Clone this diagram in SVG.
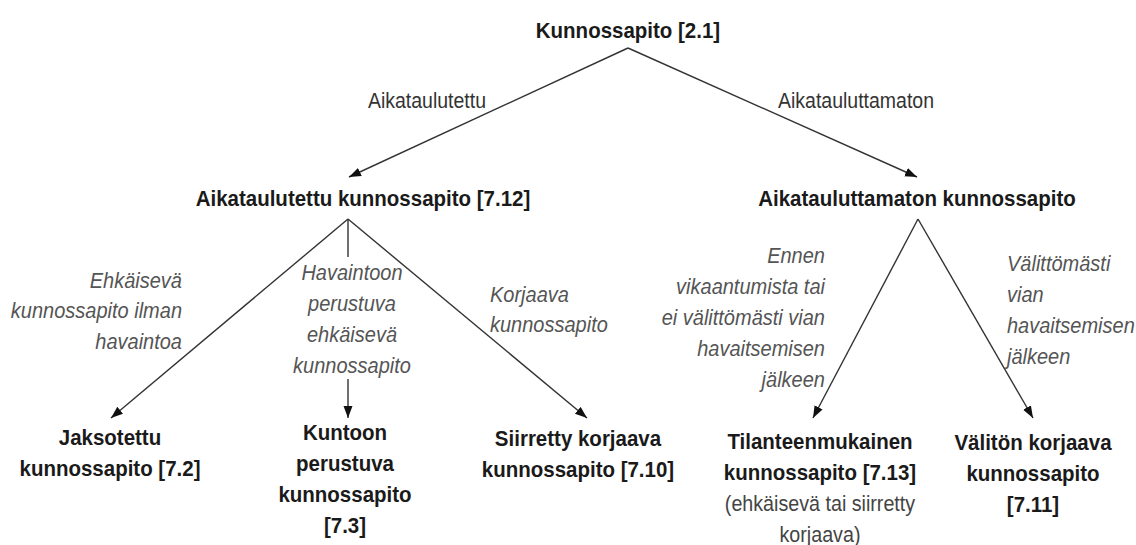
<svg xmlns="http://www.w3.org/2000/svg" width="1136" height="545" viewBox="0 0 1136 545">
<style>
.n{font-family:"Liberation Sans",Arial,sans-serif;font-weight:bold;font-size:20.5px;fill:#1a1a1a;text-anchor:middle}
.l{font-family:"Liberation Sans",Arial,sans-serif;font-size:19.5px;fill:#333}
.i{font-family:"Liberation Sans",Arial,sans-serif;font-style:italic;font-size:20px;fill:#555}
.s{font-family:"Liberation Sans",Arial,sans-serif;font-size:19.7px;fill:#444;text-anchor:middle}
.c{stroke:#333;stroke-width:1.4;fill:none}
.a{marker-end:url(#ah)}
</style>
<defs>
<marker id="ah" markerUnits="userSpaceOnUse" markerWidth="13" markerHeight="10" refX="12" refY="4.5" orient="auto">
<path d="M0,0 L12,4.5 L0,9 z" fill="#111"/>
</marker>
</defs>
<rect width="1136" height="545" fill="#fff"/>
<g id="connectors">
<line class="c a" x1="628" y1="48" x2="349" y2="177"/>
<line class="c a" x1="628" y1="48" x2="917" y2="177"/>
<line class="c a" x1="348" y1="219" x2="111" y2="418"/>
<line class="c" x1="348" y1="219" x2="348" y2="257"/>
<line class="c a" x1="348" y1="379" x2="348" y2="418"/>
<line class="c a" x1="348" y1="219" x2="587" y2="418"/>
<line class="c a" x1="918" y1="219" x2="813" y2="418"/>
<line class="c a" x1="918" y1="219" x2="1033" y2="418"/>
</g>
<g transform="scale(1,1.1)">
<g id="edge-labels">
<text class="l" x="486" y="98.18" text-anchor="end">Aikataulutettu</text>
<text class="l" x="778" y="98.18">Aikatauluttamaton</text>
<text class="i" text-anchor="end"><tspan x="182" y="261.82">Ehkäisevä</tspan><tspan x="182" y="289.55">kunnossapito ilman</tspan><tspan x="182" y="317.27">havaintoa</tspan></text>
<text class="i" text-anchor="middle"><tspan x="352" y="254.55">Havaintoon</tspan><tspan x="352" y="282.73">perustuva</tspan><tspan x="352" y="310.91">ehkäisevä</tspan><tspan x="352" y="339.09">kunnossapito</tspan></text>
<text class="i"><tspan x="490" y="274.55">Korjaava</tspan><tspan x="490" y="301.82">kunnossapito</tspan></text>
<text class="i" text-anchor="end"><tspan x="825" y="239.09">Ennen</tspan><tspan x="825" y="267.27">vikaantumista tai</tspan><tspan x="825" y="295.45">ei välittömästi vian</tspan><tspan x="825" y="323.64">havaitsemisen</tspan><tspan x="825" y="351.82">jälkeen</tspan></text>
<text class="i"><tspan x="1007" y="246.36">Välittömästi</tspan><tspan x="1007" y="274.55">vian</tspan><tspan x="1007" y="302.73">havaitsemisen</tspan><tspan x="1007" y="330.91">jälkeen</tspan></text>
</g>
<g id="root"><text class="n" x="628" y="34.55">Kunnossapito [2.1]</text></g>
<g id="scheduled"><text class="n" x="363" y="187.27">Aikataulutettu kunnossapito [7.12]</text></g>
<g id="unscheduled"><text class="n" x="917" y="187.27">Aikatauluttamaton kunnossapito</text></g>
<g id="periodic"><text class="n"><tspan x="110" y="404.55">Jaksotettu</tspan><tspan x="110" y="432.73">kunnossapito [7.2]</tspan></text></g>
<g id="condition"><text class="n"><tspan x="345" y="400">Kuntoon</tspan><tspan x="345" y="428.18">perustuva</tspan><tspan x="345" y="456.36">kunnossapito</tspan><tspan x="345" y="484.55">[7.3]</tspan></text></g>
<g id="deferred"><text class="n"><tspan x="578" y="405.45">Siirretty korjaava</tspan><tspan x="578" y="433.64">kunnossapito [7.10]</tspan></text></g>
<g id="situational"><text class="n"><tspan x="820" y="408.18">Tilanteenmukainen</tspan><tspan x="820" y="436.36">kunnossapito [7.13]</tspan></text><text class="s"><tspan x="820" y="464.55">(ehkäisevä tai siirretty</tspan><tspan x="820" y="492.73">korjaava)</tspan></text></g>
<g id="immediate"><text class="n"><tspan x="1033" y="409.09">Välitön korjaava</tspan><tspan x="1033" y="437.27">kunnossapito</tspan><tspan x="1033" y="465.45">[7.11]</tspan></text></g>
</g>
</svg>
